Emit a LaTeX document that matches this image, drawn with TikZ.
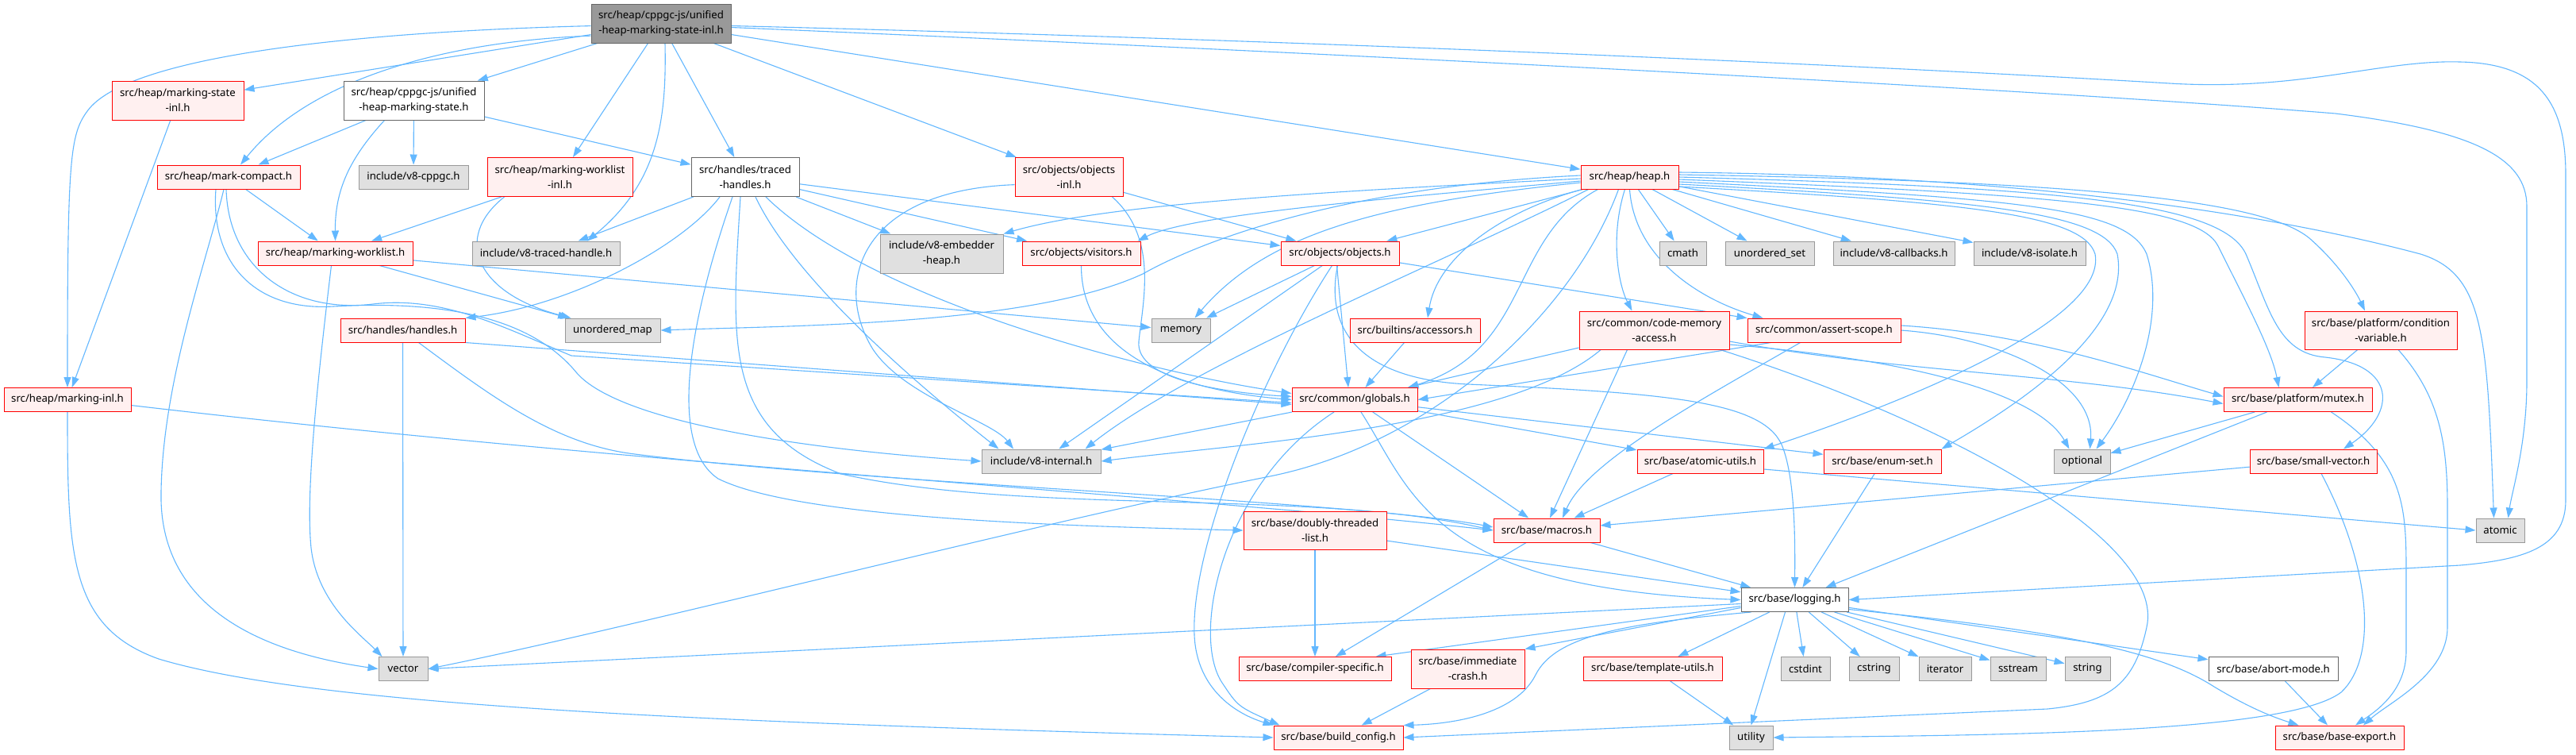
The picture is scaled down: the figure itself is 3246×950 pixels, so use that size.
\documentclass[tikz,border=0pt]{standalone}
\usepackage{fontspec}
\setmainfont{Noto Sans}
\usetikzlibrary{arrows.meta,calc}
\definecolor{edgec}{HTML}{63B8FF}
\definecolor{nred}{HTML}{FF0000}
\definecolor{nredfill}{HTML}{FFF0F0}
\definecolor{ngray}{HTML}{999999}
\definecolor{ngrayfill}{HTML}{E0E0E0}
\definecolor{ndark}{HTML}{666666}
\definecolor{nroot}{HTML}{999999}
\pgfdeclarelayer{edgelayer}
\pgfsetlayers{edgelayer,main}
\tikzset{
  nbox/.style={draw, inner sep=0pt, align=center, font=\fontsize{6.6}{9.5}\selectfont, line width=0.5pt, minimum height=15pt},
  dbl/.style={minimum height=24.5pt},
  rn/.style={nbox, draw=nred, fill=nredfill},
  gn/.style={nbox, draw=ngray, fill=ngrayfill},
  wn/.style={nbox, draw=ndark, fill=white},
  rootn/.style={nbox, draw=ndark, fill=nroot},
  ed/.style={draw=edgec, line width=0.55pt, -{Triangle[length=6.5pt,width=4.5pt]}},
}
\begin{document}
\begin{tikzpicture}[x=0.5pt,y=-0.5pt]
\useasboundingbox (0,0) rectangle (3246,950);
% ---------------- nodes ----------------
\node[rootn, dbl, minimum width=88pt] (root) at (833,29.5) {src/heap/cppgc-js/unified\\-heap-marking-state-inl.h};
\node[rn, dbl, minimum width=83pt] (msinl) at (224,126.5) {src/heap/marking-state\\-inl.h};
\node[wn, dbl, minimum width=88.5pt] (uhms) at (521.5,126.5) {src/heap/cppgc-js/unified\\-heap-marking-state.h};
\node[rn, minimum width=61.5pt] (heap) at (2053.5,223) {src/heap/heap.h};
\node[rn, minimum width=90pt] (mc) at (288,223) {src/heap/mark-compact.h};
\node[gn, minimum width=69pt] (v8cppgc) at (521,223) {include/v8-cppgc.h};
\node[rn, dbl, minimum width=91.5pt] (mwinl) at (705.5,223) {src/heap/marking-worklist\\-inl.h};
\node[wn, dbl, minimum width=68pt] (th) at (939,223) {src/handles/traced\\-handles.h};
\node[rn, dbl, minimum width=68pt] (oinl) at (1347,223) {src/objects/objects\\-inl.h};
\node[rn, minimum width=97.5pt] (mw) at (422.5,319) {src/heap/marking-worklist.h};
\node[gn, minimum width=93pt] (v8th) at (688,319) {include/v8-traced-handle.h};
\node[gn, dbl, minimum width=77.5pt] (v8eh) at (1186.5,319.5) {include/v8-embedder\\-heap.h};
\node[rn, minimum width=74.5pt] (visitors) at (1362.5,319) {src/objects/visitors.h};
\node[rn, minimum width=74.5pt] (objects) at (1688.5,319) {src/objects/objects.h};
\node[gn, minimum width=29.5pt] (cmath) at (2120.5,319) {cmath};
\node[gn, minimum width=56pt] (uset) at (2230,319) {unordered\_set};
\node[gn, minimum width=76.5pt] (v8cb) at (2386.5,319) {include/v8-callbacks.h};
\node[gn, minimum width=70.5pt] (v8iso) at (2557.5,319) {include/v8-isolate.h};
\node[rn, minimum width=78.5pt] (handles) at (507.5,416) {src/handles/handles.h};
\node[gn, minimum width=60pt] (umap) at (772,416) {unordered\_map};
\node[gn, minimum width=37pt] (memory) at (1488,416) {memory};
\node[rn, minimum width=82pt] (accessors) at (1783,416) {src/builtins/accessors.h};
\node[rn, minimum width=94.5pt, minimum height=24pt] (cma) at (2084.5,416) {src/common/code-memory\\-access.h};
\node[rn, minimum width=96.5pt] (assert) at (2298.5,416) {src/common/assert-scope.h};
\node[rn, minimum width=96pt, minimum height=24pt] (cv) at (3000,416) {src/base/platform/condition\\-variable.h};
\node[rn, minimum width=80pt] (minl) at (85,503.5) {src/heap/marking-inl.h};
\node[rn, minimum width=79pt] (globals) at (1707,503.5) {src/common/globals.h};
\node[rn, minimum width=93.5pt] (mutex) at (2895.5,503.5) {src/base/platform/mutex.h};
\node[gn, minimum width=75pt] (v8int) at (1312,581) {include/v8-internal.h};
\node[rn, minimum width=79.5pt] (autils) at (2142.5,581) {src/base/atomic-utils.h};
\node[rn, minimum width=74pt] (enumset) at (2372,581) {src/base/enum-set.h};
\node[gn, minimum width=35.5pt] (optional) at (2623.5,581) {optional};
\node[rn, minimum width=80pt] (svec) at (2915,581) {src/base/small-vector.h};
\node[rn, minimum width=90pt, minimum height=24pt] (dtl) at (1657,668) {src/base/doubly-threaded\\-list.h};
\node[rn, minimum width=67pt] (macros) at (1949,668) {src/base/macros.h};
\node[gn, minimum width=30.5pt] (atomic) at (3150.5,668) {atomic};
\node[wn, minimum width=67.5pt] (logging) at (2261.5,755.5) {src/base/logging.h};
\node[gn, minimum width=31pt] (vector) at (508,842.5) {vector};
\node[rn, minimum width=96pt] (cspec) at (1657,842.5) {src/base/compiler-specific.h};
\node[rn, dbl, minimum width=71.5pt] (icrash) at (1849.5,842.5) {src/base/immediate\\-crash.h};
\node[rn, minimum width=87.5pt] (tutils) at (2082.5,842.5) {src/base/template-utils.h};
\node[gn, minimum width=31pt] (cstdint) at (2275,842.5) {cstdint};
\node[gn, minimum width=31.5pt] (cstring) at (2361.5,842.5) {cstring};
\node[gn, minimum width=33pt] (iterator) at (2451,842.5) {iterator};
\node[gn, minimum width=35pt] (sstream) at (2543,842.5) {sstream};
\node[gn, minimum width=28.5pt] (string) at (2630.5,842.5) {string};
\node[wn, minimum width=81.5pt] (abort) at (2864.5,842.5) {src/base/abort-mode.h};
\node[rn, minimum width=81.5pt] (bconfig) at (1686.5,929) {src/base/build\_config.h};
\node[gn, minimum width=27.5pt] (utility) at (2206.5,929) {utility};
\node[rn, minimum width=81pt] (bexport) at (2948,929) {src/base/base-export.h};
% ---------------- edges ----------------
\begin{pgfonlayer}{edgelayer}
\fill[white] (0,0) rectangle (3246,950);
% root
\draw[ed] (root) -- (msinl);
\draw[ed] (root) -- (uhms);
\draw[ed] (root) -- (mwinl);
\draw[ed] (root) -- (th);
\draw[ed] (root) -- (oinl);
\draw[ed] (root) -- (heap);
\draw[ed] (root.190) .. controls (560,52) and (390,100) .. ($(mc.north)+(15,0)$);
\draw[ed] ($(root.south)+(5,0)$) .. controls (840,150) and (830,230) .. ($(v8th.north)+(52,0)$);
\draw[ed] (root.182) .. controls (450,40) and (160,70) .. (110,140) .. controls (88,170) and (85,200) .. (minl.north);
\draw[ed] ($(root.east)+(0,3)$) .. controls (1700,52) and (2400,85) .. (2734,105) .. controls (2900,115) and (3000,75) .. (3100,78) .. controls (3200,80) and (3233,130) .. (3233,220) -- (3233,630) .. controls (3233,690) and (3180,705) .. (3100,712) -- (logging.east);
\draw[ed] ($(root.east)+(0,5)$) .. controls (1800,72) and (2600,115) .. (2943,143) .. controls (3120,165) and (3184,200) .. (3184,260) -- (3184,480) .. controls (3184,560) and (3165,620) .. ($(atomic.north)+(10,0)$);
% marking-state-inl
\draw[ed] (msinl) -- (minl);
% unified-heap-marking-state
\draw[ed] (uhms) -- (mc);
\draw[ed] ($(uhms.south)+(-37,0)$) .. controls (440,200) and (422,240) .. (mw.north);
\draw[ed] (uhms) -- (v8cppgc);
\draw[ed] (uhms) -- (th);
% mark-compact
\draw[ed] (mc) -- (mw);
\draw[ed] ($(mc.south)+(-6,0)$) .. controls (260,330) and (205,480) .. (203,620) .. controls (200,760) and (320,820) .. (vector.west);
\draw[ed] ($(mc.south)+(-3,0)$) .. controls (288,340) and (370,395) .. (470,383) .. controls (560,372) and (640,415) .. (720,448) -- ($(globals.west)+(0,4)$);
\draw[ed] ($(mc.south)+(-16,0)$) .. controls (265,330) and (320,392) .. (420,386) .. controls (560,378) and (670,400) .. (727,470) .. controls (780,530) and (1000,565) .. (v8int.west);
% marking-worklist-inl
\draw[ed] (mwinl) -- (mw);
\draw[ed] ($(mwinl.south)+(-70,0)$) .. controls (570,300) and (600,370) .. ($(umap.north west)+(8,0)$);
% marking-worklist
\draw[ed] ($(mw.south)+(-5,0)$) .. controls (400,480) and (385,620) .. (392,690) .. controls (400,760) and (455,800) .. ($(vector.north west)+(5,0)$);
\draw[ed] (mw) -- (umap);
\draw[ed] (mw) -- (memory);
% traced-handles
\draw[ed] (th) -- (v8th);
\draw[ed] ($(th.south)+(-32,0)$) .. controls (860,310) and (720,385) .. (handles.north east);
\draw[ed] ($(th.south)+(-16,0)$) .. controls (870,400) and (840,560) .. (905,603) .. controls (1000,650) and (1300,662) .. (dtl.west);
\draw[ed] ($(th.south)+(-6,0)$) .. controls (922,430) and (910,540) .. (1060,597) .. controls (1300,650) and (1650,615) .. (macros.west);
\draw[ed] ($(th.south)+(13,0)$) .. controls (1000,350) and (1150,480) .. ($(v8int.north west)+(22,0)$);
\draw[ed] (th) -- (v8eh);
\draw[ed] (th) -- (visitors);
\draw[ed] (th) -- (objects);
\draw[ed] ($(th.south)+(26,0)$) .. controls (1100,380) and (1450,470) .. ($(globals.west)+(0,-8)$);
% handles
\draw[ed] (handles) -- (vector);
\draw[ed] (handles.south east) -- ($(globals.west)+(0,6)$);
\draw[ed] ($(handles.south)+(20,0)$) .. controls (620,500) and (700,560) .. (800,572) .. controls (1100,610) and (1700,630) .. ($(macros.west)+(0,-4)$);
% objects-inl
\draw[ed] (oinl) -- (objects);
\draw[ed] (oinl.188) .. controls (1080,240) and (1050,360) .. (1100,440) .. controls (1140,500) and (1250,530) .. ($(v8int.north)+(-35,0)$);
\draw[ed] ($(oinl.south east)+(-14,0)$) .. controls (1460,300) and (1440,380) .. (1435,430) .. controls (1430,480) and (1550,495) .. ($(globals.west)+(0,-4)$);
% visitors
\draw[ed] (visitors.south) .. controls (1362,440) and (1470,490) .. (globals.west);
% heap
\draw[ed] (heap) -- (objects);
\draw[ed] ($(heap.west)+(0,2)$) .. controls (1700,240) and (1400,255) .. (v8eh.north east);
\draw[ed] ($(heap.west)+(0,5)$) .. controls (1750,250) and (1500,270) .. ($(visitors.north east)+(-4,0)$);
\draw[ed] ($(heap.west)+(0,-2)$) .. controls (1700,235) and (1520,300) .. (1440,345) .. controls (1300,410) and (1000,410) .. (umap.east);
\draw[ed] ($(heap.west)+(0,7)$) .. controls (1750,255) and (1600,290) .. ($(memory.north east)+(-20,0)$);
\draw[ed] ($(heap.south west)+(10,0)$) .. controls (1820,330) and (1500,460) .. ($(v8int.north east)+(-20,0)$);
\draw[ed] ($(heap.south)+(-40,0)$) .. controls (1900,300) and (1930,440) .. ($(globals.north east)+(-12,0)$);
\draw[ed] ($(heap.south)+(-14,0)$) .. controls (1980,400) and (1800,560) .. (1600,600) .. controls (1300,660) and (800,790) .. (vector.east);
\draw[ed] ($(heap.south west)+(2,0)$) .. controls (1880,270) and (1810,330) .. ($(accessors.north)+(16,0)$);
\draw[ed] ($(heap.south)+(-6,0)$) .. controls (2028,300) and (2040,360) .. ($(cma.north)+(-28,0)$);
\draw[ed] (heap.south) .. controls (2060,330) and (2150,380) .. ($(assert.north west)+(20,0)$);
\draw[ed] (heap) -- (cmath);
\draw[ed] (heap) -- (uset);
\draw[ed] (heap) -- (v8cb);
\draw[ed] (heap) -- (v8iso);
\draw[ed] ($(heap.east)+(0,-6)$) .. controls (2600,222) and (2900,280) .. (3050,320) .. controls (3130,345) and (3134,420) .. ($(atomic.north)+(-8,0)$);
\draw[ed] ($(heap.east)+(0,-3)$) .. controls (2600,228) and (2850,250) .. (2910,300) .. controls (2950,335) and (2970,370) .. ($(cv.north)+(-20,0)$);
\draw[ed] (heap.east) .. controls (2600,236) and (2800,255) .. (2830,320) .. controls (2860,390) and (2870,445) .. (2930,450) .. controls (3020,460) and (3020,520) .. ($(svec.north)+(38,0)$);
\draw[ed] ($(heap.east)+(0,3)$) .. controls (2600,245) and (2770,260) .. (2795,310) .. controls (2830,380) and (2862,440) .. ($(mutex.north)+(-24,0)$);
\draw[ed] ($(heap.east)+(0,6)$) .. controls (2550,250) and (2680,262) .. (2705,320) .. controls (2730,400) and (2690,500) .. ($(optional.north)+(18,0)$);
\draw[ed] ($(heap.east)+(0,9)$) .. controls (2500,252) and (2650,268) .. (2668,320) .. controls (2685,410) and (2560,500) .. (enumset.north east);
\draw[ed] ($(heap.east)+(0,12)$) .. controls (2480,255) and (2625,270) .. (2640,320) .. controls (2655,400) and (2420,500) .. (autils.north east);
% objects
\draw[ed] (objects) -- (memory);
\draw[ed] (objects) -- (v8int);
\draw[ed] ($(objects.south)+(-4,0)$) -- ($(globals.north)+(-8,0)$);
\draw[ed] ($(objects.south)+(-10,0)$) .. controls (1590,470) and (1500,690) .. (1505,800) .. controls (1508,870) and (1560,900) .. (bconfig.north west);
\draw[ed] (objects) -- (assert);
\draw[ed] ($(objects.south)+(-3,0)$) .. controls (1668,420) and (1720,478) .. (1850,484) .. controls (2100,495) and (2220,505) .. (2245,560) .. controls (2262,600) and (2262,680) .. (logging.north);
% accessors
\draw[ed] (accessors) -- (globals);
% code-memory-access
\draw[ed] (cma) -- (globals);
\draw[ed] (cma.200) .. controls (1900,540) and (1550,560) .. (v8int.east);
\draw[ed] ($(cma.south)+(-34,0)$) -- ($(macros.north)+(4,0)$);
\draw[ed] ($(cma.south east)+(-12,0)$) .. controls (2450,530) and (2730,680) .. (2705,790) .. controls (2690,860) and (2660,885) .. (2580,893) -- (bconfig.east);
\draw[ed] ($(cma.east)+(0,18)$) .. controls (2430,455) and (2570,500) .. ($(optional.north)+(-16,0)$);
\draw[ed] ($(cma.east)+(0,14)$) .. controls (2400,470) and (2600,470) .. ($(mutex.west)+(0,5)$);
% assert-scope
\draw[ed] ($(assert.south west)+(30,0)$) -- (globals.east);
\draw[ed] ($(assert.south)+(-30,0)$) .. controls (2150,500) and (2000,580) .. ($(macros.north)+(20,0)$);
\draw[ed] (assert.east) .. controls (2520,425) and (2640,480) .. ($(optional.north)+(10,0)$);
\draw[ed] ($(assert.east)+(0,-6)$) .. controls (2560,420) and (2700,470) .. ($(mutex.west)+(0,-4)$);
% globals
\draw[ed] (globals) -- (v8int);
\draw[ed] (globals) -- (autils);
\draw[ed] (globals) -- (enumset);
\draw[ed] (globals) -- (macros);
\draw[ed] ($(globals.south)+(-26,0)$) .. controls (1540,610) and (1500,800) .. (1540,860) .. controls (1560,890) .. ($(bconfig.north west)+(8,0)$);
\draw[ed] ($(globals.south)+(8,0)$) .. controls (1780,620) and (1800,740) .. (logging.west);
% marking-inl
\draw[ed] (minl.-5) .. controls (800,585) and (1500,625) .. (macros.west);
\draw[ed] (minl.south) .. controls (85,700) and (88,790) .. (200,830) .. controls (400,890) and (900,910) .. (bconfig.west);
% doubly-threaded-list
\draw[ed] (dtl) -- (cspec);
\draw[ed] (dtl) -- (logging);
% macros, atomic-utils, enum-set
\draw[ed] (macros) -- (cspec);
\draw[ed] (macros) -- (logging);
\draw[ed] (autils) -- (macros);
\draw[ed] ($(autils.east)+(0,10)$) -- (atomic.west);
\draw[ed] (enumset) -- (logging);
% mutex, condition-variable, small-vector
\draw[ed] (mutex) -- (optional);
\draw[ed] (mutex) -- (logging);
\draw[ed] ($(mutex.south)+(42,0)$) .. controls (3030,580) and (3032,640) .. (3032,720) -- (3032,820) .. controls (3032,870) and (2995,895) .. ($(bexport.north)+(20,0)$);
\draw[ed] (cv) -- (mutex);
\draw[ed] ($(cv.south)+(22,0)$) .. controls (3075,500) and (3084,560) .. (3084,640) -- (3084,790) .. controls (3084,850) and (3010,885) .. ($(bexport.north)+(30,0)$);
\draw[ed] (svec) -- (macros);
\draw[ed] ($(svec.south)+(10,0)$) .. controls (2990,720) and (2995,830) .. (2950,872) .. controls (2880,925) and (2500,926) .. (utility.east);
% logging
\draw[ed] ($(logging.west)+(0,5)$) -- (vector.east);
\draw[ed] ($(logging.west)+(0,8)$) -- ($(cspec.north east)+(-20,0)$);
\draw[ed] ($(logging.west)+(0,10)$) -- (icrash.north east);
\draw[ed] ($(logging.south west)+(13,0)$) .. controls (2050,785) and (1960,800) .. (1935,850) .. controls (1910,900) and (1830,912) .. (bconfig.north east);
\draw[ed] (logging) -- (tutils);
\draw[ed] ($(logging.south)+(-12,0)$) -- (utility.north);
\draw[ed] (logging) -- (cstdint);
\draw[ed] (logging) -- (cstring);
\draw[ed] (logging) -- (iterator);
\draw[ed] (logging) -- (sstream);
\draw[ed] (logging) -- (string);
\draw[ed] (logging) -- (abort);
\draw[ed] ($(logging.east)+(0,12)$) .. controls (2600,795) and (2720,820) .. (2790,865) .. controls (2840,895) and (2870,905) .. ($(bexport.north west)+(30,0)$);
% leaves
\draw[ed] (icrash) -- (bconfig);
\draw[ed] (tutils) -- (utility);
\draw[ed] (abort) -- (bexport);
\end{pgfonlayer}
\end{tikzpicture}
\end{document}
